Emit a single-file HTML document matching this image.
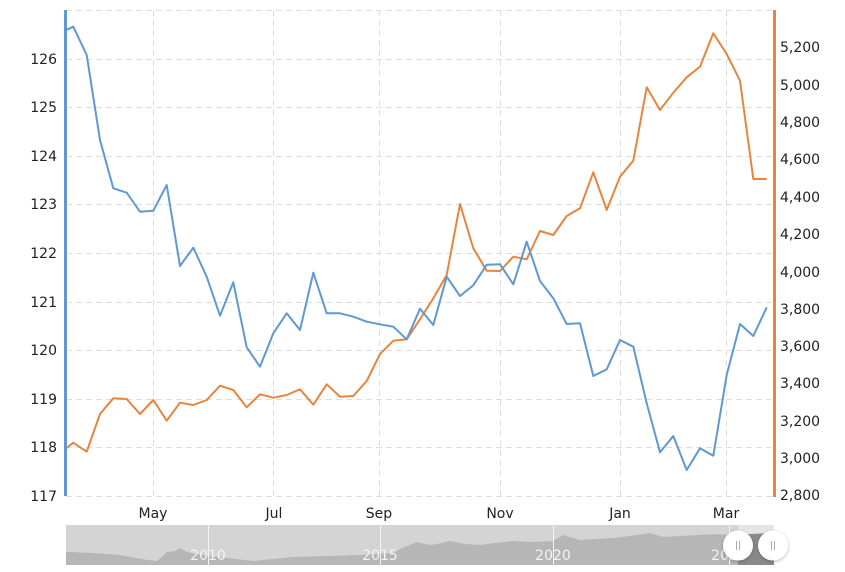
<!DOCTYPE html>
<html>
<head>
<meta charset="utf-8">
<style>
html,body{margin:0;padding:0;background:#fff;}
svg{display:block;}
text{font-family:"DejaVu Sans","Liberation Sans",sans-serif;}
</style>
</head>
<body>
<svg width="845" height="572" viewBox="0 0 845 572" xmlns="http://www.w3.org/2000/svg">
<defs>
  <clipPath id="plot"><rect x="66" y="0" width="708" height="500"/></clipPath>
  <clipPath id="nav"><rect x="66" y="525" width="708" height="40"/></clipPath>
  <filter id="sh" x="-50%" y="-50%" width="200%" height="200%">
    <feDropShadow dx="0" dy="1" stdDeviation="1.5" flood-color="#000" flood-opacity="0.3"/>
  </filter>
</defs>
<rect width="845" height="572" fill="#fff"/>

<!-- horizontal gridlines -->
<g stroke="#dedede" stroke-width="1" stroke-dasharray="6,4">
  <line x1="66" y1="10.5" x2="774" y2="10.5"/>
  <line x1="66" y1="59.5" x2="774" y2="59.5"/>
  <line x1="66" y1="107.5" x2="774" y2="107.5"/>
  <line x1="66" y1="156.5" x2="774" y2="156.5"/>
  <line x1="66" y1="204.5" x2="774" y2="204.5"/>
  <line x1="66" y1="253.5" x2="774" y2="253.5"/>
  <line x1="66" y1="302.5" x2="774" y2="302.5"/>
  <line x1="66" y1="350.5" x2="774" y2="350.5"/>
  <line x1="66" y1="399.5" x2="774" y2="399.5"/>
  <line x1="66" y1="447.5" x2="774" y2="447.5"/>
  <line x1="66" y1="496.5" x2="774" y2="496.5"/>
</g>
<!-- vertical gridlines -->
<g stroke="#dedede" stroke-width="1" stroke-dasharray="6,4">
  <line x1="153.5" y1="10" x2="153.5" y2="496"/>
  <line x1="273.5" y1="10" x2="273.5" y2="496"/>
  <line x1="379.5" y1="10" x2="379.5" y2="496"/>
  <line x1="500.5" y1="10" x2="500.5" y2="496"/>
  <line x1="620.5" y1="10" x2="620.5" y2="496"/>
  <line x1="726.5" y1="10" x2="726.5" y2="496"/>
</g>

<!-- series -->
<g clip-path="url(#plot)" fill="none" stroke-width="2" stroke-linejoin="round">
  <polyline stroke="#e6853f" points="60,453 73.3,442.7 86.7,451.7 100,414 113.3,398.3 126.7,399 140,414 153.3,400 166.7,420.7 180,402.7 193.3,405 206.7,400 220,385.7 233.3,390 246.7,407.3 260,394.3 273.3,397.7 286.7,395 300,389.3 313.3,404.7 326.7,384.3 340,396.7 353.3,396 366.7,381 380,354 393.3,340.7 406.7,339.3 420,319.3 433.3,298.3 446.7,275 460,204 473.3,248.3 486.7,270.7 500,271 513.3,256.7 526.7,259.3 540,231 553.3,235 566.7,216 580,208.3 593.3,172.3 606.7,210 620,176.7 633.3,160.7 646.7,87.3 660,110 673.3,92.7 686.7,77.3 700,66.7 713.3,33.3 726.7,54 740,80.7 753.3,179 766.7,179"/>
  <polyline stroke="#5f99cf" points="60,33 73.3,26.7 86.7,55 100,140 113.3,188.3 126.7,192.7 140,211.7 153.3,210.7 166.7,185 180,266 193.3,247.7 206.7,276.7 220,315.7 233.3,282.3 246.7,347.3 260,366.7 273.3,333.3 286.7,313.3 300,330 313.3,272.7 326.7,313.3 340,313.3 353.3,316.7 366.7,321.7 380,324.3 393.3,326.7 406.7,339.3 420,308.7 433.3,325 446.7,276.7 460,296 473.3,285.3 486.7,264.7 500,264.3 513.3,284.3 526.7,241.7 540,281 553.3,298.3 566.7,324 580,323.3 593.3,376 606.7,369.3 620,340 633.3,346.7 646.7,403.3 660,452.3 673.3,436 686.7,470 700,448.3 713.3,455.7 726.7,375 740,324 753.3,336 766.7,307.3"/>
</g>

<!-- axis lines -->
<rect x="64" y="10" width="3" height="486" fill="#5f99cf"/>
<rect x="773" y="10" width="3" height="487" fill="#e6853f"/>

<!-- left axis labels -->
<g fill="#222" font-size="14" text-anchor="end">
  <text x="57" y="64">126</text>
  <text x="57" y="112">125</text>
  <text x="57" y="161">124</text>
  <text x="57" y="209">123</text>
  <text x="57" y="258">122</text>
  <text x="57" y="307">121</text>
  <text x="57" y="355">120</text>
  <text x="57" y="404">119</text>
  <text x="57" y="452">118</text>
  <text x="57" y="501">117</text>
</g>
<!-- right axis labels -->
<g fill="#222" font-size="14" text-anchor="start">
  <text x="780" y="52">5,200</text>
  <text x="780" y="90">5,000</text>
  <text x="780" y="127">4,800</text>
  <text x="780" y="164">4,600</text>
  <text x="780" y="202">4,400</text>
  <text x="780" y="239">4,200</text>
  <text x="780" y="277">4,000</text>
  <text x="780" y="314">3,800</text>
  <text x="780" y="351">3,600</text>
  <text x="780" y="388">3,400</text>
  <text x="780" y="426">3,200</text>
  <text x="780" y="463">3,000</text>
  <text x="780" y="500">2,800</text>
</g>
<!-- x axis labels -->
<g fill="#222" font-size="14" text-anchor="middle">
  <text x="153" y="518">May</text>
  <text x="274" y="518">Jul</text>
  <text x="379" y="518">Sep</text>
  <text x="500" y="518">Nov</text>
  <text x="620" y="518">Jan</text>
  <text x="726" y="518">Mar</text>
</g>

<!-- navigator -->
<g clip-path="url(#nav)">
  <rect x="66" y="525" width="708" height="40" fill="#d4d4d4"/>
  <polygon fill="#b6b6b6" points="66,551.7 93,553 120,555 147,560 157,561 167,552 175,551 180,548 187,552 207,556 227,558 253,561 273,559 293,557 327,556 360,555 393,553 400,549 417,542 430,545 437,544 450,541 465,544 480,545 495,543 513,541 530,542 553,541 563,535 580,540 595,539 613,538 630,536 650,533 663,537 680,536 697,535 715,534 730,535 740,534 774,533 774,565 66,565"/>
  <rect x="738" y="525" width="36" height="40" fill="#e6e6e6"/>
  <polygon fill="#8a8a8a" points="738,534.5 750,534 762,533.5 774,533 774,565 738,565"/>
  <g stroke="#f4f4f4" stroke-width="1">
    <line x1="208.5" y1="525" x2="208.5" y2="565"/>
    <line x1="380.5" y1="525" x2="380.5" y2="565"/>
    <line x1="553.5" y1="525" x2="553.5" y2="565"/>
    <line x1="729.5" y1="525" x2="729.5" y2="565"/>
  </g>
  <g fill="#f4f4f4" font-size="14" text-anchor="middle">
    <text x="208" y="560">2010</text>
    <text x="380" y="560">2015</text>
    <text x="553" y="560">2020</text>
    <text x="729" y="560">2025</text>
  </g>
</g>
<!-- handles -->
<g filter="url(#sh)">
  <circle cx="738" cy="545.5" r="15" fill="#fff"/>
  <circle cx="773" cy="545.5" r="15" fill="#fff"/>
</g>
<g stroke="#aaa" stroke-width="1">
  <line x1="736.5" y1="541" x2="736.5" y2="550"/>
  <line x1="739.5" y1="541" x2="739.5" y2="550"/>
  <line x1="771.5" y1="541" x2="771.5" y2="550"/>
  <line x1="774.5" y1="541" x2="774.5" y2="550"/>
</g>
</svg>
</body>
</html>
